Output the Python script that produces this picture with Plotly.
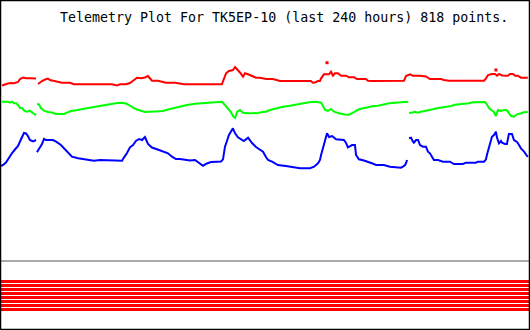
import plotly.graph_objects as go

TITLE = "Telemetry Plot For TK5EP-10 (last 240 hours) 818 points."

# Red channel (hours, value); None marks a gap
red_hours = [0.9, 2.3, 3.6, 5.0, 6.4, 8.2, 9.1, 10.5, 11.8, 13.6, 15.5, 16.4, None,
             17.3, 18.2, 19.1, 20.5, 21.8, 22.7, 24.6, 26.4, 28.2, 30.0, 31.8, 33.6, 36.4, 40.0,
             43.7, 47.3, 50.9, 53.2, 54.6, 57.3, 59.1, 60.5, 62.3, 64.1, 65.9, 67.3, 69.1, 71.8,
             73.7, 75.5, 79.6, 81.8, 83.7, 87.3, 90.9, 94.6, 98.2, 100.9, 101.9, 102.8, 104.1,
             105.9, 106.9, 108.2, 109.1, 110.5, 111.4, 112.8, 114.6, 116.4, 118.2, 120.0, 121.0,
             124.1, 125.5, 127.3, 131.9, 136.4, 141.4, 142.3, 143.2, 144.6, 145.5, 146.0, 147.3,
             149.6, 150.5, 151.4, 152.3, 153.7, 155.1, 157.3, 158.7, 161.0, 162.3, 166.4,
             167.3, 169.1, 172.8, 177.3, 181.4, 183.7, 184.6, 186.4, 187.8, 191.0, 193.7, 195.5,
             200.5, 201.9, 204.2, 209.2, 214.6, 220.1, 221.0, 221.9, 223.7, 225.1, 226.0,
             226.9, 228.3, 229.6, 231.0, 231.9, 233.3, 234.2, 235.5, 236.9, 240.0]
red_vals = [244.5, 245.7, 246.5, 247, 246.7, 248, 251, 252.5, 251.7, 251.7, 251.7, 251.5, None,
            246, 248, 249, 250.5, 251.5, 250, 249, 247.5, 247.3, 247.3, 247.3, 245.7, 245.7, 245.7,
            245.7, 245.7, 245.7, 244.5, 245.7, 245.7, 247, 249.3, 252.3, 251.7, 252.5, 254, 249.3, 249.3,
            248, 247.3, 247.3, 246.5, 245.7, 245.7, 245.7, 245.7, 245.7, 245.7, 251.7, 256.7, 259,
            260, 263, 259, 257.5, 253.3, 256.7, 255.7, 254, 252.3, 252.3, 251.7, 251,
            251, 250, 249, 249, 249, 249, 247.3, 247.5, 249, 249, 251.7, 255.7,
            255.7, 258.3, 254.3, 256.7, 256.7, 254.3, 254.3, 252.7, 252.7, 251, 251,
            249.3, 249, 249, 249, 249.3, 249.3, 254, 255.7, 254.3, 254.3, 253.5, 251,
            251, 250, 249.3, 249.3, 249.3, 249.3, 251.7, 255, 256, 256, 254.3,
            256, 254.5, 254.3, 254.3, 256, 256, 254.3, 254.3, 252.3, 252.3]
# isolated red outlier samples
red_spike_hours = [148.7, 225.5]
red_spike_vals = [267.3, 260]

green_hours = [0.9, 2.3, 3.6, 4.5, 5.5, 6.4, 7.3, 8.2, 9.1, 10.0, 10.9, 11.8, 12.7, 13.6, 14.6,
               15.5, 16.4, None,
               16.8, 17.7, 18.6, 20.0, 21.8, 23.6, 25.5, 27.3, 29.1, 30.5, 32.3, 34.6, 36.4, 39.1,
               41.8, 44.6, 47.3, 50.0, 52.7, 55.5, 57.3, 59.1, 60.5, 62.3, 64.1, 65.9, 68.2, 71.4,
               74.1, 76.4, 78.7, 81.8, 85.0, 88.7, 92.3, 96.4, 100.9, 102.3, 103.7, 105.0, 105.9,
               106.9, 107.8, 109.1, 110.5, 112.3, 114.6, 117.3, 120.0, 121.0, 122.8, 125.5, 128.7,
               131.9, 135.0, 137.8, 140.5, 143.7, 146.0, 146.9, 147.8, 149.1, 150.5, 151.9, 154.1,
               156.9, 158.7, 160.5, 163.2, 166.4, 169.1, 171.9, 174.2, 176.9, 179.6, 181.4, 183.2,
               185.1, 185.5, None,
               186.0, 187.3, 188.7, 190.1, 191.4, 193.2, 195.1, 196.9, 198.7, 200.5, 202.3, 205.1,
               206.9, 209.6, 211.4, 213.3, 215.1, 217.8, 220.5, 221.4, 222.4, 223.7, 224.6, 225.5,
               226.4, 227.8, 229.2, 230.5, 231.4, 232.4, 233.7, 235.1, 236.9, 238.3, 240.0]
green_vals = [228.3, 228.3, 228.3, 227.3, 228.3, 226.7, 226.7, 225, 222, 222, 219.5, 218.5, 218.5,
              219.3, 217, 216, 215, None,
              225.7, 225.7, 222, 219.3, 218, 217.5, 216, 216, 216, 217.3, 219, 219.7, 220.3, 221.3,
              222.7, 223.7, 224.7, 226, 226.7, 227.2, 226.5, 224.5, 222.3, 220.5, 219.5, 218, 218.3, 218.3,
              219, 220.5, 221.7, 223.5, 225, 226.2, 227, 228, 228.3, 225, 221.5, 218, 214,
              212, 218, 220, 217.3, 216.7, 216.7, 217, 218.3, 218.3, 220, 221.7, 223.3,
              224.3, 225.7, 226.7, 227.7, 228.3, 227.3, 224, 220, 219, 221, 218.3, 216.7,
              215.5, 215.3, 217.3, 220.7, 222.3, 223.7, 224.3, 225.7, 226.7, 227.3, 227.5, 228.3,
              228.3, 227.3, None,
              217.3, 217.3, 218.3, 217.3, 218.3, 219, 219.5, 220.7, 221.7, 222.3, 223.5, 224,
              225.2, 225.7, 226.5, 226.7, 227.7, 228, 228, 225.7, 221.7, 219.5, 218, 214,
              220, 219, 220, 219.7, 217.3, 214, 213.3, 215.7, 216.7, 217.7, 218]

blue_hours = [0.5, 1.4, 2.7, 4.1, 5.5, 6.8, 8.2, 9.5, 10.9, 11.8, 12.7, 13.6, 15.0, 16.4, None,
              16.8, 17.7, 19.1, 20.0, 20.9, 22.7, 24.1, 25.5, 27.7, 29.1, 30.9, 32.7, 35.5, 39.1,
              42.7, 45.5, 49.1, 52.7, 55.5, 56.4, 57.7, 59.1, 60.5, 61.8, 63.2, 64.6, 65.9, 67.3,
              69.1, 72.3, 76.4, 78.2, 80.0, 81.8, 84.1, 86.4, 88.7, 90.5, 92.3, 94.1, 95.9, 98.7,
              100.5, 101.4, 102.3, 103.2, 104.1, 105.9, 106.9, 108.2, 109.6, 110.9, 112.8, 114.6,
              116.4, 117.8, 119.6, 121.0, 121.9, 123.7, 126.4, 130.0, 133.7, 136.4, 141.0, 142.8,
              144.6, 145.5, 146.0, 146.9, 147.8, 148.7, 149.6, 151.0, 152.8, 155.1, 156.4, 157.3,
              158.2, 160.1, 161.4, 161.9, 163.2, 165.5, 167.3, 169.1, 171.0, 174.6, 177.3, 181.4,
              182.3, 183.2, 184.2, 184.6, 185.1, None,
              186.0, 186.9, 187.8, 188.2, 189.2, 190.1, 191.0, 192.3, 193.7, 194.6, 195.5, 196.4,
              197.3, 199.2, 201.4, 204.6, 206.4, 210.5, 211.9, 216.4, 217.3, 220.1, 221.0, 221.4,
              222.4, 223.3, 223.7, 224.6, 225.5, 226.0, 226.9, 227.8, 228.3, 229.6, 230.5, 231.4,
              232.8, 233.7, 235.1, 236.0, 236.9, 238.3, 239.2, 240.0]
blue_vals = [164, 165, 167.5, 173, 177, 180.5, 184, 190.5, 197, 196.5, 194, 190, 188.7, 190, None,
             177.7, 181, 186, 191, 190, 190, 190, 188.3, 185, 181.7, 177, 173.3, 171.7, 170.7,
             169.3, 170, 170, 169.3, 169.3, 172.7, 176.7, 182.7, 185, 189, 191, 190, 193, 186,
             182.5, 180, 176.7, 173.3, 171, 171, 170, 169.5, 170, 166.7, 164.3, 166.5, 168, 168.3,
             168.5, 170.7, 183.3, 189, 195, 201.7, 196.7, 192.7, 190.7, 189, 192.3, 187,
             183, 181, 178.3, 172.7, 170, 168.3, 165, 164, 162.7, 161.7, 161.7, 163.3,
             166.7, 170, 175, 181.7, 188.3, 196.7, 193, 194, 190.7, 190.7, 190, 187.3,
             182.7, 185, 185, 175, 170.7, 169.5, 168.3, 166.7, 165, 165, 163.3, 163,
             162.3, 163.3, 165, 166.7, 170, None,
             191.7, 192.3, 188.3, 187.3, 190, 190, 185, 183.3, 183.3, 178.3, 176.7, 172.7,
             170, 170, 168.3, 168.3, 166, 166, 167.3, 167.3, 168.3, 168.3, 170.7, 175,
             182.7, 190, 193.3, 195, 198.3, 192.3, 186.7, 189, 187.3, 186, 186, 196,
             196, 190, 188, 185, 181.7, 178.3, 176, 173]

# digital channel levels (all bits set) and separator level
bit_levels = [48.5, 44.5, 40.5, 36.5, 32.5, 28.5, 24.5, 20.5]
separator_level = 69
time_span = [0, 241]

fig = go.Figure()

for lvl in bit_levels:
    fig.add_trace(go.Scatter(x=time_span, y=[lvl, lvl], mode="lines",
                             line=dict(color="#ff0000", width=3), hoverinfo="skip"))

fig.add_trace(go.Scatter(x=time_span, y=[separator_level, separator_level], mode="lines",
                         line=dict(color="#aaaaaa", width=2), hoverinfo="skip"))

for hrs, vals, col in [(red_hours, red_vals, "#ff0000"),
                       (green_hours, green_vals, "#00ff00"),
                       (blue_hours, blue_vals, "#0000ff")]:
    fig.add_trace(go.Scatter(x=hrs, y=vals, mode="lines",
                             line=dict(color=col, width=2), connectgaps=False))

fig.add_trace(go.Scatter(x=red_spike_hours, y=red_spike_vals, mode="markers",
                         marker=dict(color="#ff0000", size=3, symbol="square",
                                     line=dict(width=0))))

fig.add_annotation(text=TITLE, xref="paper", yref="paper", x=284 / 530, y=1 - 17 / 330,
                   xanchor="center", yanchor="middle", showarrow=False,
                   font=dict(family="DejaVu Sans Mono", size=13.3, color="#000000"))

fig.add_shape(type="rect", xref="paper", yref="paper", x0=0, y0=0, x1=1, y1=1,
              line=dict(color="#000000", width=2.5))

fig.update_layout(
    width=530, height=330, margin=dict(l=0, r=0, t=0, b=0),
    paper_bgcolor="#ffffff", plot_bgcolor="#ffffff", showlegend=False,
    xaxis=dict(range=time_span, visible=False, fixedrange=True),
    yaxis=dict(range=[0, 330], visible=False, fixedrange=True),
)

fig.write_html("out.html")
